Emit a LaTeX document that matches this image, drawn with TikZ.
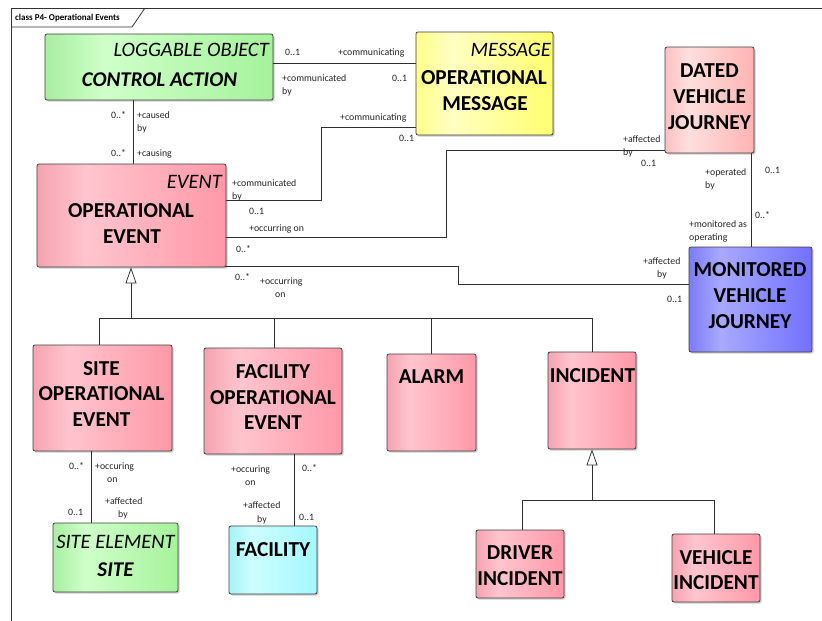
\documentclass[tikz,border=0pt]{standalone}
\usepackage{fontspec}
\setmainfont{Carlito}
\usetikzlibrary{arrows.meta,shadows}
\definecolor{pkA}{HTML}{F5A3B1}\definecolor{pkB}{HTML}{FFC5CE}\definecolor{pkC}{HTML}{FF98A8}
\definecolor{gA}{HTML}{A8EEA0}\definecolor{gB}{HTML}{CFFFC9}\definecolor{gC}{HTML}{A6F29C}
\definecolor{yA}{HTML}{FFFF8A}\definecolor{yB}{HTML}{FFFFC2}\definecolor{yC}{HTML}{FFFF70}
\definecolor{bA}{HTML}{7C7CF5}\definecolor{bB}{HTML}{A9A9FF}\definecolor{bC}{HTML}{7070FF}
\definecolor{dA}{HTML}{FFC0C0}\definecolor{dB}{HTML}{FFDFDF}\definecolor{dC}{HTML}{FFB3B3}
\definecolor{cA}{HTML}{A4F2F8}\definecolor{cB}{HTML}{CCFFFF}\definecolor{cC}{HTML}{A4F6FF}
\definecolor{edge}{HTML}{404040}
\definecolor{linec}{HTML}{303030}
\pgfdeclarehorizontalshading{pinkS}{100bp}{color(0bp)=(pkA); color(25bp)=(pkA); color(38bp)=(pkB); color(75bp)=(pkC); color(100bp)=(pkC)}
\pgfdeclarehorizontalshading{greenS}{100bp}{color(0bp)=(gA); color(25bp)=(gA); color(38bp)=(gB); color(75bp)=(gC); color(100bp)=(gC)}
\pgfdeclarehorizontalshading{yellowS}{100bp}{color(0bp)=(yA); color(25bp)=(yA); color(38bp)=(yB); color(75bp)=(yC); color(100bp)=(yC)}
\pgfdeclarehorizontalshading{blueS}{100bp}{color(0bp)=(bA); color(25bp)=(bA); color(38bp)=(bB); color(75bp)=(bC); color(100bp)=(bC)}
\pgfdeclarehorizontalshading{dvjS}{100bp}{color(0bp)=(dA); color(25bp)=(dA); color(38bp)=(dB); color(75bp)=(dC); color(100bp)=(dC)}
\pgfdeclarehorizontalshading{cyanS}{100bp}{color(0bp)=(cA); color(25bp)=(cA); color(38bp)=(cB); color(75bp)=(cC); color(100bp)=(cC)}
\newcommand\lb[3]{\node[lab] (#1) at (#2) {#3};}
\begin{document}
\begin{tikzpicture}[x=1pt,y=-1pt,
  cls/.style={draw=edge, line width=0.8pt, rounded corners=2pt, inner sep=0pt,
    drop shadow={shadow xshift=1.6pt, shadow yshift=-1.6pt, opacity=0.28, fill=black!70}},
  bt/.style={inner sep=0pt, font=\fontsize{21.3}{24}\selectfont\bfseries, text height=13.7pt, text depth=0pt},
  st/.style={inner sep=0pt, font=\fontsize{20.5}{24}\selectfont\itshape, text height=13.2pt, text depth=0pt, anchor=east},
  bit/.style={inner sep=0pt, font=\fontsize{21}{24}\selectfont\bfseries\itshape, text height=13.5pt, text depth=0pt},
  lab/.style={inner sep=0pt, anchor=west, font=\fontsize{9.8}{11}\selectfont, text height=6.3pt, text depth=0pt, text=black!85},
  conn/.style={draw=linec, line width=0.75pt},
  gen/.style={draw=linec, line width=0.75pt, -{Triangle[open, length=16pt, width=11pt, fill=white]}},
  frame/.style={draw=black!80, line width=0.8pt}
]
\useasboundingbox (0,0) rectangle (822,621);
\fill[white] (0,0) rectangle (822,621);
% frame
\draw[frame] (11,621) -- (11,8) -- (822,8);
\draw[frame] (11,27) -- (132,27) -- (145,8);
\node[inner sep=0pt, anchor=west, font=\fontsize{9}{11}\selectfont\bfseries] (title) at (15,18) {class P4- Operational Events};

% boxes
\node[cls, shading=greenS, minimum width=228pt, minimum height=66pt] (ca) at (159,67) {};
\node[cls, shading=yellowS, minimum width=137pt, minimum height=103pt] (msg) at (484.5,83.5) {};
\node[cls, shading=dvjS, minimum width=89pt, minimum height=106pt] (dvj) at (709.5,100) {};
\node[cls, shading=pinkS, minimum width=189pt, minimum height=103pt] (ev) at (131.5,215.5) {};
\node[cls, shading=blueS, minimum width=123pt, minimum height=105pt] (mvj) at (750.5,299.5) {};
\node[cls, shading=pinkS, minimum width=139pt, minimum height=106pt] (sop) at (102.5,398) {};
\node[cls, shading=pinkS, minimum width=138pt, minimum height=106pt] (fop) at (273,401) {};
\node[cls, shading=pinkS, minimum width=89pt, minimum height=97pt] (alarm) at (431.5,402.5) {};
\node[cls, shading=pinkS, minimum width=88pt, minimum height=97pt] (inc) at (592,400.5) {};
\node[cls, shading=pinkS, minimum width=88pt, minimum height=68pt] (di) at (520,564) {};
\node[cls, shading=pinkS, minimum width=88pt, minimum height=68pt] (vi) at (716,568) {};
\node[cls, shading=greenS, minimum width=125pt, minimum height=69pt] (site) at (115.5,557.5) {};
\node[cls, shading=cyanS, minimum width=88pt, minimum height=68pt] (fac) at (273,560) {};

% box texts
\node[st] (caS) at (269,50) {LOGGABLE OBJECT};
\node[bit] (caT) at (159.5,80) {CONTROL ACTION};
\node[st] (msgS) at (551,50) {MESSAGE};
\node[bt] (msgT1) at (484,78) {OPERATIONAL};
\node[bt] (msgT2) at (485,104) {MESSAGE};
\node[bt] (dvjT1) at (709.5,71) {DATED};
\node[bt] (dvjT2) at (709.5,97) {VEHICLE};
\node[bt] (dvjT3) at (709.5,123) {JOURNEY};
\node[st] (evS) at (222,182) {EVENT};
\node[bt] (evT1) at (131,211) {OPERATIONAL};
\node[bt] (evT2) at (132,237) {EVENT};
\node[bt] (mvjT1) at (750,270) {MONITORED};
\node[bt] (mvjT2) at (750,296) {VEHICLE};
\node[bt] (mvjT3) at (750,322) {JOURNEY};
\node[bt] (sopT1) at (101.5,369) {SITE};
\node[bt] (sopT2) at (101.5,394) {OPERATIONAL};
\node[bt] (sopT3) at (101.5,420) {EVENT};
\node[bt] (fopT1) at (273,372) {FACILITY};
\node[bt] (fopT2) at (273,398) {OPERATIONAL};
\node[bt] (fopT3) at (273,423) {EVENT};
\node[bt] (alarmT) at (431.5,377) {ALARM};
\node[bt] (incT) at (592.5,376) {INCIDENT};
\node[bt] (diT1) at (520,553) {DRIVER};
\node[bt] (diT2) at (520,579) {INCIDENT};
\node[bt] (viT1) at (716,558) {VEHICLE};
\node[bt] (viT2) at (716,583) {INCIDENT};
\node[inner sep=0pt, font=\fontsize{20.5}{24}\selectfont\itshape, text height=13.2pt, text depth=0pt] (siteS) at (115.5,542) {SITE ELEMENT};
\node[bit] (siteT) at (115.5,570) {SITE};
\node[bt] (facT) at (273,550) {FACILITY};

% connectors
\draw[conn] (ca.east |- 0,63) -- (msg.west |- 0,63);
\draw[conn] (msg.west |- 0,127) -- (321,127) -- (321,200) -- (ev.east |- 0,200);
\draw[conn] (ca.south -| 133,0) -- (ev.north -| 133,0);
\draw[conn] (ev.east |- 0,237) -- (446,237) -- (446,150) -- (dvj.west |- 0,150);
\draw[conn] (ev.east |- 0,266.5) -- (458,266.5) -- (458,284) -- (mvj.west |- 0,284);
\draw[conn] (dvj.south -| 751,0) -- (mvj.north -| 751,0);
\draw[conn] (sop.south -| 91,0) -- (site.north -| 91,0);
\draw[conn] (fop.south -| 294,0) -- (fac.north -| 294,0);
% generalization of EVENT
\coordinate (j1) at (131,318);
\draw[conn] (sop.north -| 99,0) -- (99,318) -- (592,318) -- (inc.north -| 592,0);
\draw[conn] (fop.north -| 274,0) -- (274,318);
\draw[conn] (alarm.north -| 431,0) -- (431,318);
\draw[gen] (j1) -- (ev.south -| 131,0);
% generalization of INCIDENT
\coordinate (j2) at (592,500);
\draw[conn] (di.north -| 522,0) -- (522,500) -- (714,500) -- (vi.north -| 714,0);
\draw[gen] (j2) -- (inc.south -| 592,0);

% labels
\lb{l1}{285,52}{0..1}
\lb{l2}{338,52}{+communicating}
\lb{l3}{282,78}{+communicated}
\lb{l4}{282,91}{by}
\lb{l5}{392,78}{0..1}
\lb{l6}{111,115}{0..*}
\lb{l7}{137,115}{+caused}
\lb{l8}{137,128}{by}
\lb{l9}{340,117}{+communicating}
\lb{l10}{399,138}{0..1}
\lb{l11}{111,153}{0..*}
\lb{l12}{137,153}{+causing}
\lb{l13}{623,139}{+affected}
\lb{l14}{623,152}{by}
\lb{l15}{641,163}{0..1}
\lb{l16}{705,172}{+operated}
\lb{l17}{705,185}{by}
\lb{l18}{765,170}{0..1}
\lb{l19}{232,183}{+communicated}
\lb{l20}{232,196}{by}
\lb{l21}{249,211}{0..1}
\lb{l22}{249,228}{+occurring on}
\lb{l23}{236,249}{0..*}
\lb{l24}{235,277}{0..*}
\lb{l25}{260,281}{+occurring}
\lb{l26}{275,294}{on}
\lb{l27}{755,215}{0..*}
\lb{l28}{689,224}{+monitored as}
\lb{l29}{689,237}{operating}
\lb{l30}{643,261}{+affected}
\lb{l31}{657,274}{by}
\lb{l32}{667,299}{0..1}
\lb{l33}{69,466}{0..*}
\lb{l34}{95,466}{+occuring}
\lb{l35}{107,479}{on}
\lb{l36}{105,501}{+affected}
\lb{l37}{118,514}{by}
\lb{l38}{68,512}{0..1}
\lb{l39}{231,469}{+occuring}
\lb{l40}{245,482}{on}
\lb{l41}{302,468}{0..*}
\lb{l42}{243,505}{+affected}
\lb{l43}{257,519}{by}
\lb{l44}{299,517}{0..1}
\end{tikzpicture}
\end{document}
